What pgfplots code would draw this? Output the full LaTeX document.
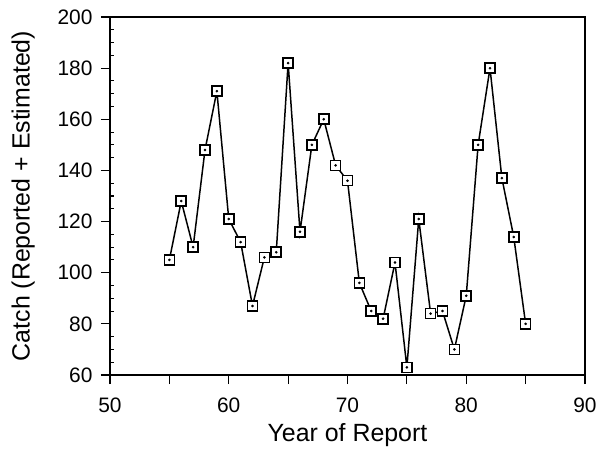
\documentclass[border=0pt]{standalone}
\usepackage{pgfplots}
\pgfplotsset{compat=1.18}
\usepackage{fontspec}
\setmainfont{Liberation Sans}
\begin{document}
\begin{tikzpicture}
\begin{axis}[
  at={(0,0)}, anchor=south west,
  scale only axis,
  width=475bp, height=358bp,
  xmin=50, xmax=90, ymin=60, ymax=200,
  xtick={50,55,...,90},
  xticklabels={50,,60,,70,,80,,90},
  ytick={60,80,...,200},
  minor ytick={65,70,75,85,90,95,105,110,115,125,130,135,145,150,155,165,170,175,185,190,195},
  tick pos=left,
  tick align=outside,
  major tick length=9bp,
  minor tick length=4bp,
  minor y tick style={xshift=4bp},
  axis line style={line width=1.3pt},
  every tick/.style={line width=1.1pt, black},
  /pgf/number format/assume math mode=true,
  ticklabel style={font=\fontsize{21}{25}\selectfont},
  xticklabel style={yshift=-10bp},
  yticklabel style={xshift=-5bp},
  label style={font=\fontsize{25}{30}\selectfont},
  xlabel={Year of Report},
  xlabel style={yshift=-4bp},
  ylabel={Catch (Reported + Estimated)},
  ylabel style={yshift=16bp},
]
\addplot[black, line width=1.5pt, mark=square*, mark size=5bp, mark options={fill=white, line width=1.6pt, solid}] coordinates {
(55,105) (56,128) (57,110) (58,148) (59,171) (60,121) (61,112) (62,87) (63,106) (64,108)
(65,182) (66,116) (67,150) (68,160) (69,142) (70,136) (71,96) (72,85) (73,82) (74,104)
(75,63) (76,121) (77,84) (78,85) (79,70) (80,91) (81,150) (82,180) (83,137) (84,114) (85,80)
};
\addplot[only marks, black, mark=*, mark size=1.1bp] coordinates {
(55,105) (56,128) (57,110) (58,148) (59,171) (60,121) (61,112) (62,87) (63,106) (64,108)
(65,182) (66,116) (67,150) (68,160) (69,142) (70,136) (71,96) (72,85) (73,82) (74,104)
(75,63) (76,121) (77,84) (78,85) (79,70) (80,91) (81,150) (82,180) (83,137) (84,114) (85,80)
};
\end{axis}
\pgfresetboundingbox
\path (-110bp,-77bp) rectangle (488bp,375bp);
\end{tikzpicture}
\end{document}
